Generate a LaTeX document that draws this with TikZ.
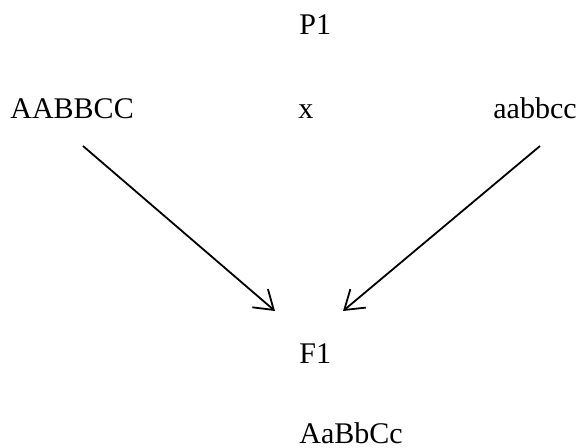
\documentclass[tikz,border=0pt]{standalone}
\usepackage{fontspec}
\setmainfont{Liberation Serif}
\usetikzlibrary{arrows.meta}
\begin{document}
\begin{tikzpicture}[x=0.5pt, y=-0.5pt, line join=round,
    lbl/.style={font=\fontsize{15}{18}\selectfont, inner sep=0pt, anchor=base west},
    arr/.style={draw, line width=0.9pt, -{Straight Barb[length=9pt, width=12pt, line width=0.9pt]}}]
    % 1. 画布
    \useasboundingbox (0,0) rectangle (582,448);

    % 2. 亲本与子代
    \node[lbl] (P1) at (299, 35) {P1};
    \node[lbl] (AA) at (10, 119) {AABBCC};
    \node[lbl] (x) at (298, 119) {x};
    \node[lbl] (aa) at (493, 119) {aabbcc};
    \node[lbl] (F1) at (299, 363) {F1};
    \node[lbl] (Aa) at (299, 443) {AaBbCc};

    % 3. 箭头端点
    \coordinate (s1) at (83, 146);
    \coordinate (e1) at (275, 311);
    \coordinate (s2) at (540, 146);
    \coordinate (e2) at (343, 311);

    % 4. 箭头
    \draw[arr] (s1) -- (e1);
    \draw[arr] (s2) -- (e2);
\end{tikzpicture}
\end{document}
